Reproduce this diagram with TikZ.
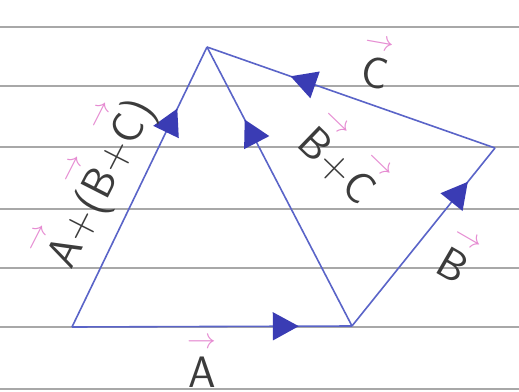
\documentclass[tikz,border=0pt]{standalone}
\usepackage{amsmath}
\usepackage{xcolor}
\definecolor{penBlue}{HTML}{5A64C8}
\definecolor{inkBlue}{HTML}{3A3CB4}
\definecolor{vecPink}{HTML}{E68CD2}
\definecolor{pencilGray}{HTML}{3C3C3C}
\definecolor{ruleGray}{HTML}{A8A8A8}
\usepackage{tikz}
\usetikzlibrary{
    arrows.meta,
    decorations.markings
}
\newcommand{\hvec}[1]{$\overset{\textcolor{vecPink}{\rightarrow}}{\textsf{#1}}$}
\tikzset{
    % Ruled lines of the paper
    paper rule/.style={
        draw=ruleGray,
        line width=0.9pt,
    },
    % Vector side - thin pen line with a filled triangle along it
    vector line/.style={
        draw=penBlue,
        line width=0.8pt,
        postaction={decorate},
        decoration={
            markings,
            mark=at position #1 with {\arrow[inkBlue]{Triangle[length=13pt, width=14pt]}}
        },
    },
    vector line/.default=0.8,
    % Handwritten labels
    hand label/.style={
        font=\sffamily\fontsize{22}{26}\selectfont,
        text=pencilGray,
        inner sep=0pt,
    },
}

\begin{document}
\begin{tikzpicture}[x=0.5pt, y=-0.5pt]
    \fill[white] (0,0) rectangle (519,391);
    \useasboundingbox (0,0) rectangle (519,391);
    \foreach \y in {27,86,147,209,268,327,389}
        \draw[paper rule] (0,\y) -- (519,\y);

    \coordinate (O) at (72,327);
    \coordinate (P) at (352,326);
    \coordinate (R) at (495,148);
    \coordinate (T) at (207,47);

    \draw [vector line=0.81] (O) -- (P);
    \draw [vector line=0.81] (P) -- (R);
    \draw [vector line=0.71] (R) -- (T);
    \draw [vector line=0.74] (P) -- (T);
    \draw [vector line=0.78] (O) -- (T);

    \node (labelA) [hand label] at (202,361) {\hvec{A}};
    \node (labelB) [hand label, rotate=-30] at (459,255) {\hvec{B}};
    \node (labelC) [hand label, rotate=-10] at (377,62) {\hvec{C}};
    \node (labelBC) [hand label, rotate=-44] at (345,158) {\hvec{B}+\hvec{C}};
    \node (labelABC) [hand label, rotate=63] at (94,180) {\hvec{A}+(\hvec{B}+\hvec{C})};
\end{tikzpicture}
\end{document}
